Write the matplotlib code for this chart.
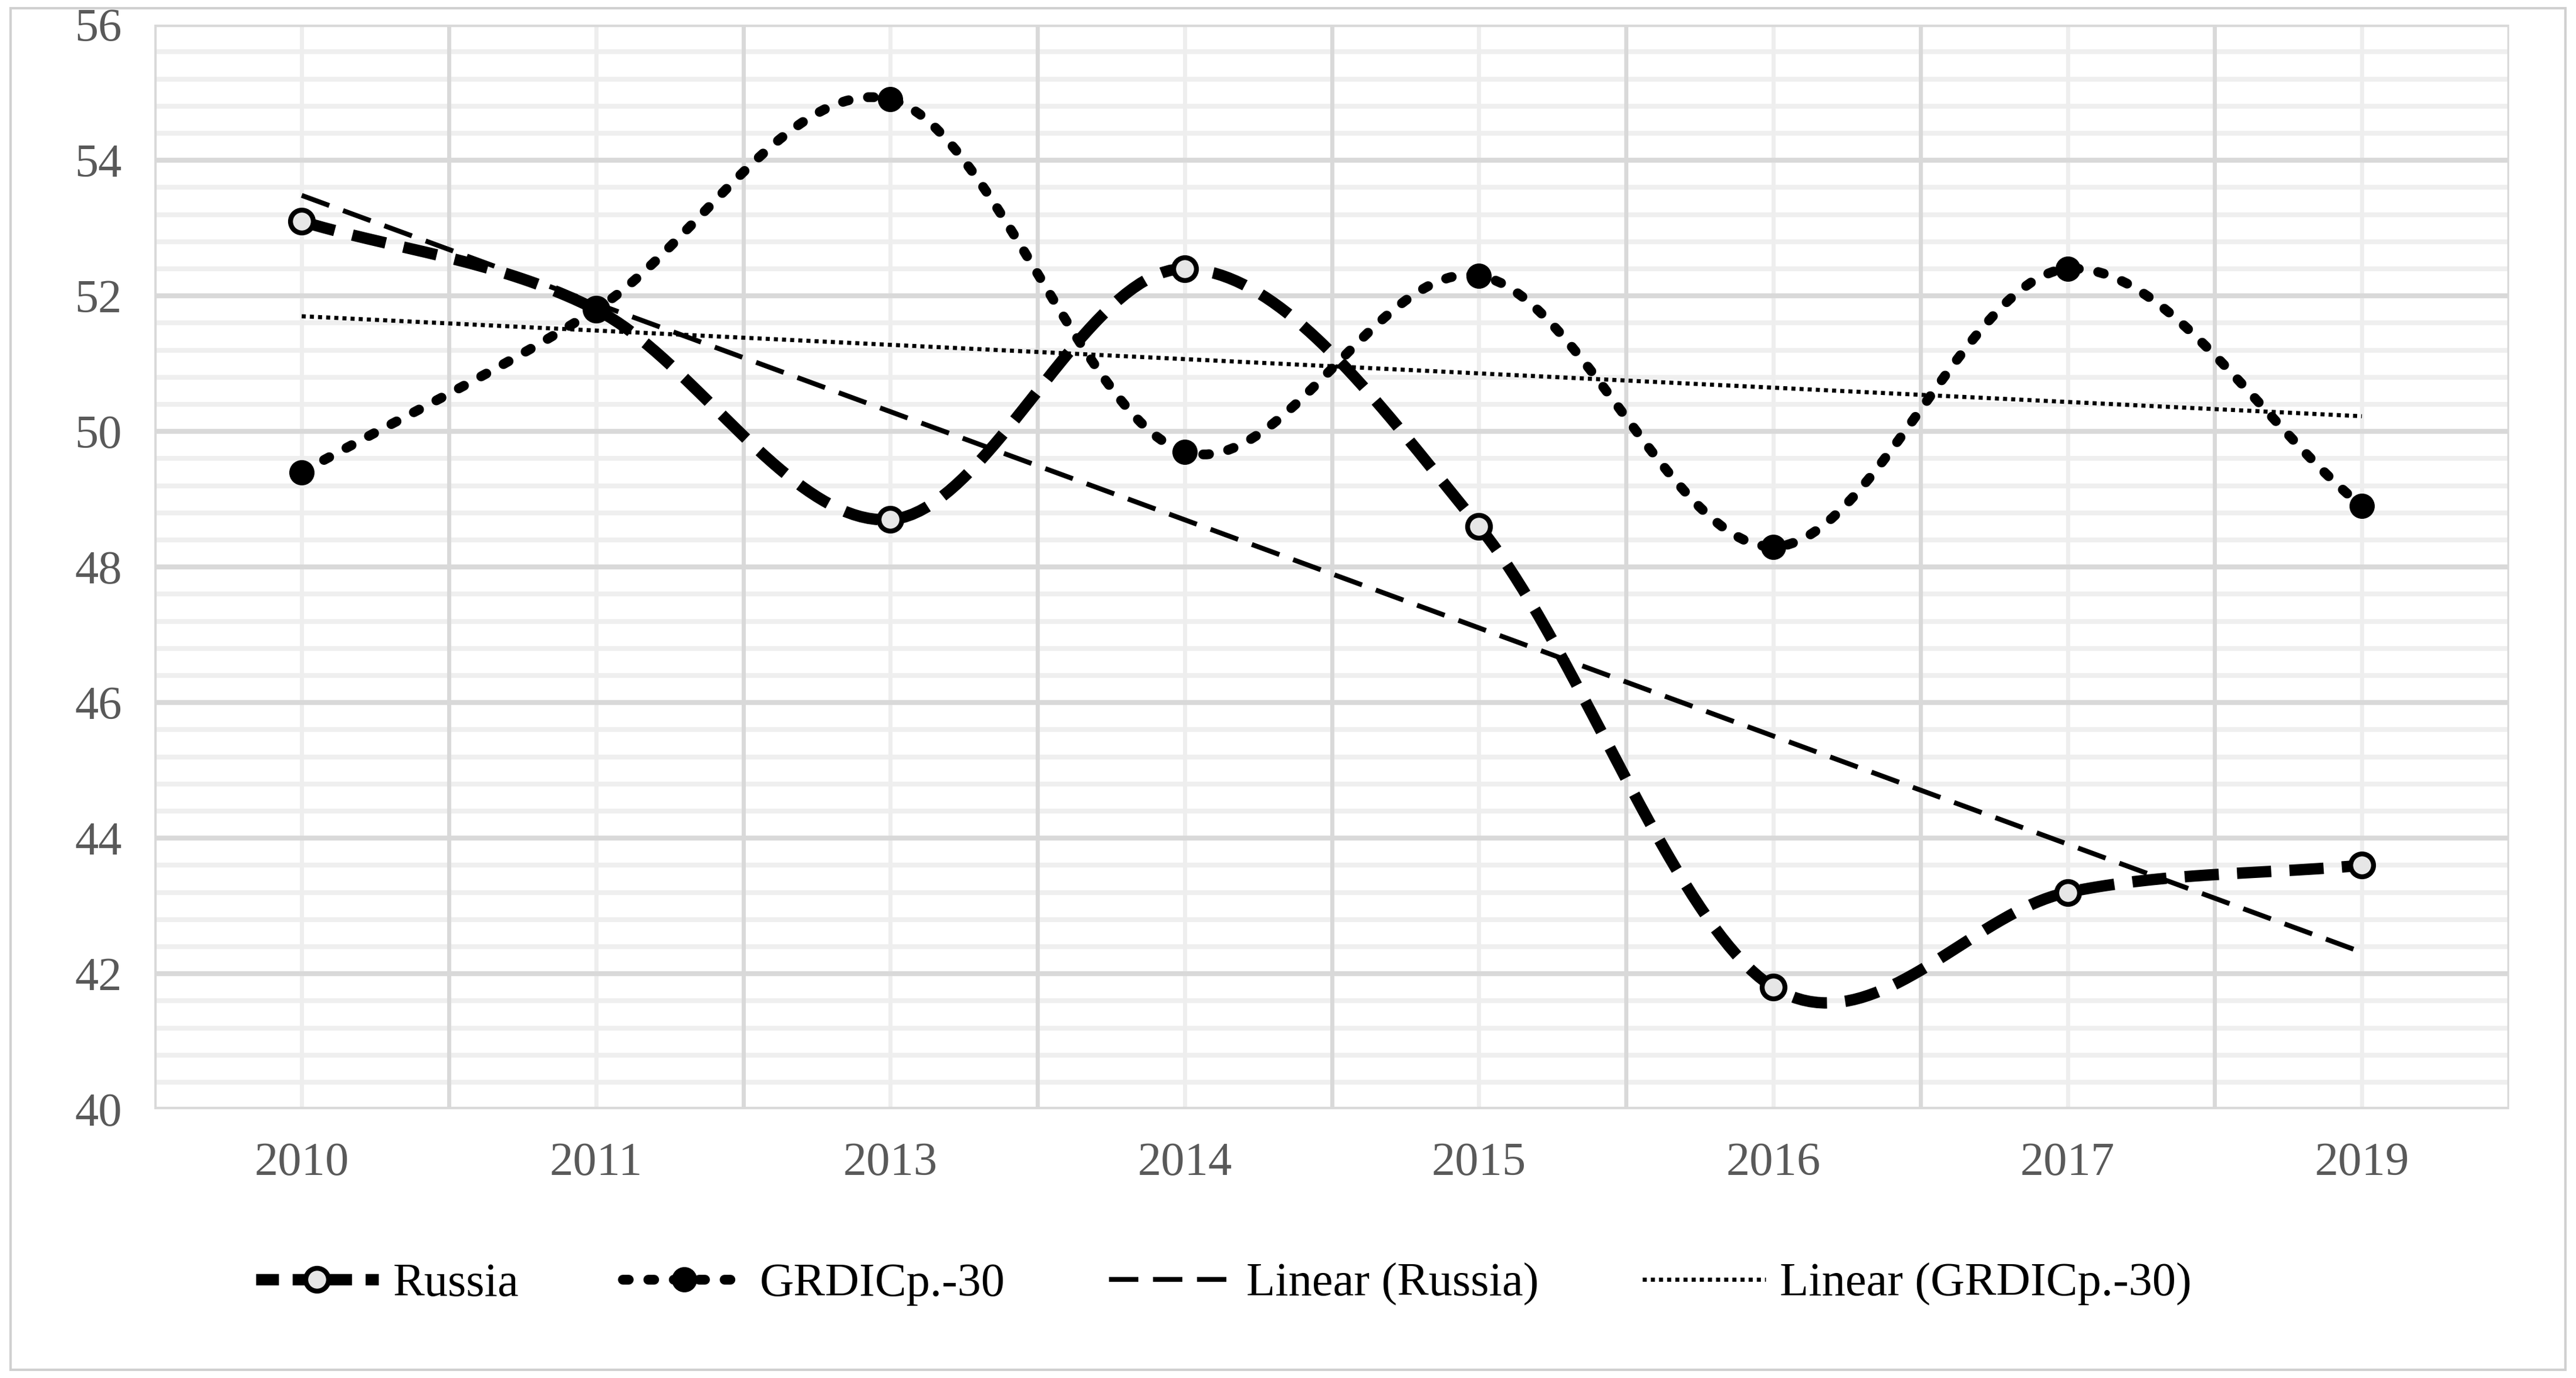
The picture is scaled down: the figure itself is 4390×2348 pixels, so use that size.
import numpy as np
import matplotlib
matplotlib.use("Agg")
import matplotlib.pyplot as plt
from matplotlib.patches import Rectangle
from matplotlib.lines import Line2D

years = ["2010", "2011", "2013", "2014", "2015", "2016", "2017", "2019"]
russia = [53.1, 51.8, 48.7, 52.4, 48.6, 41.8, 43.2, 43.6]
grdic = [49.4, 51.8, 54.9, 49.7, 52.3, 48.3, 52.4, 48.9]

def smooth(y, n=40):
    y = np.asarray(y, float); x = np.arange(len(y), dtype=float)
    P = np.column_stack([x, y])
    P = np.vstack([2*P[0]-P[1], P, 2*P[-1]-P[-2]])
    out = []
    for i in range(1, len(P)-2):
        p0, p1, p2, p3 = P[i-1], P[i], P[i+1], P[i+2]
        t = np.linspace(0, 1, n, endpoint=False)[:, None]
        seg = 0.5*((2*p1) + (-p0+p2)*t + (2*p0-5*p1+4*p2-p3)*t**2 + (-p0+3*p1-3*p2+p3)*t**3)
        out.append(seg)
    out.append(P[-2][None, :])
    o = np.vstack(out)
    return o[:, 0], o[:, 1]

plt.rcParams['font.family'] = ['Liberation Serif', 'DejaVu Serif']
fig = plt.figure(figsize=(43.9, 23.48), dpi=100)
ax = fig.add_axes([0.06, 0.195, 0.914, 0.787])
fig.patches.append(Rectangle((0.004, 0.006), 0.992, 0.988, transform=fig.transFigure,
                             fill=False, edgecolor='#d0d0d0', lw=3))
x = np.arange(len(years))
ax.set_xlim(-0.5, len(years)-0.5)
ax.set_ylim(40, 56)
for v in np.arange(40.4, 56, 0.4):
    ax.axhline(v, color='#efefef', lw=6, zorder=0)
for v in range(40, 57, 2):
    ax.axhline(v, color='#d9d9d9', lw=6, zorder=0.5)
for xi in x:
    ax.axvline(xi, color='#eeeeee', lw=5, zorder=0)
for xb in np.arange(0.5, len(years)-0.5, 1):
    ax.axvline(xb, color='#d9d9d9', lw=5, zorder=0.5)
for s in ax.spines.values():
    s.set_visible(False)
ax.axvline(-0.5, color='#d9d9d9', lw=5)
ax.axvline(len(years)-0.5, color='#d9d9d9', lw=5)

sx, sy = smooth(russia)
ax.plot(sx, sy, color='black', lw=14, ls=(0, (3, 1.6)), zorder=3)
ax.plot(x, russia, 'o', ms=28, mfc='#e6e6e6', mec='black', mew=6, zorder=4, ls='none')
gx, gy = smooth(grdic)
ax.plot(gx, gy, color='black', lw=12, ls=(0, (0.6, 2.0)), dash_capstyle='round', zorder=3)
ax.plot(x, grdic, 'o', ms=30, color='black', zorder=4, ls='none')
c = np.polyfit(x, russia, 1)
ax.plot(x, np.polyval(c, x), color='black', lw=6, ls=(0, (6, 3)), zorder=2)
c2 = np.polyfit(x, grdic, 1)
ax.plot(x, np.polyval(c2, x), color='black', lw=5, ls=(0, (1, 1)), zorder=2)

ax.set_xticks(x)
ax.set_xticklabels(years)
ax.set_yticks(range(40, 57, 2))
ax.tick_params(length=0, labelsize=58, labelcolor='#595959', pad=40)

handles = [
    Line2D([], [], color='black', lw=14, ls=(0, (2, 1.2)), marker='o', ms=28, mfc='#e6e6e6', mec='black', mew=6),
    Line2D([], [], color='black', lw=12, ls=(0, (0.6, 2.0)), dash_capstyle='round', marker='o', ms=30, mfc='black', mec='black'),
    Line2D([], [], color='black', lw=6, ls=(0, (6, 3))),
    Line2D([], [], color='black', lw=5, ls=(0, (1, 1))),
]
fig.legend(handles, ["Russia", "GRDICp.-30", "Linear (Russia)", "Linear (GRDICp.-30)"],
           loc='center', bbox_to_anchor=(0.475, 0.068), ncol=4, frameon=False,
           fontsize=58, handlelength=2.6, handletextpad=0.3, columnspacing=2.2, labelcolor='black')
fig.savefig("out.png", dpi=100)
